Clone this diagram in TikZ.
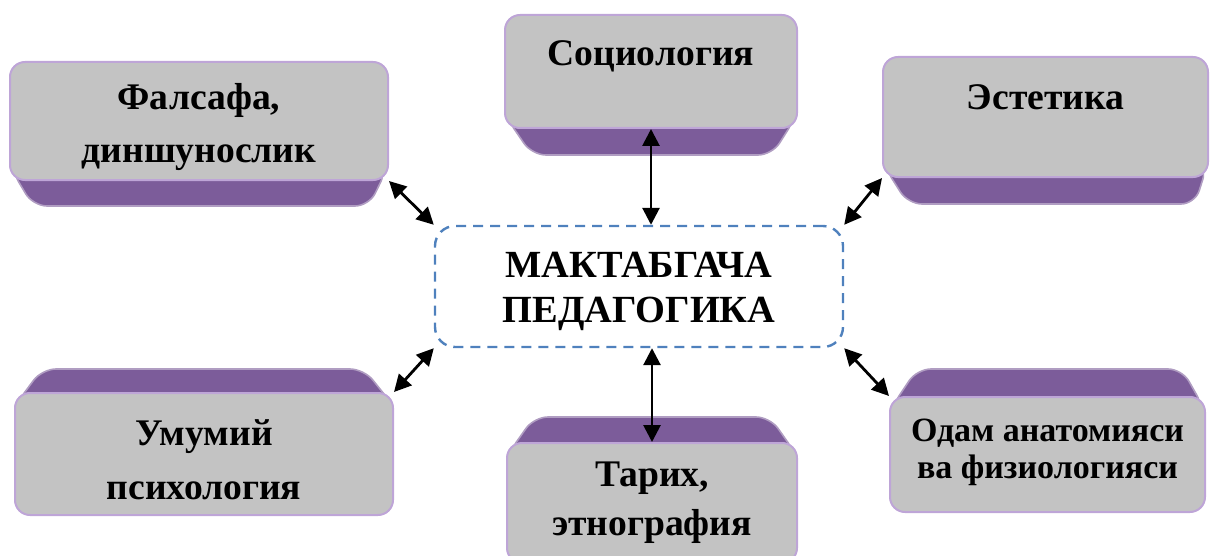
\documentclass[tikz,border=0pt]{standalone}
\usepackage{fontspec}
\setmainfont{Liberation Serif}
\usetikzlibrary{arrows.meta}
\usetikzlibrary{backgrounds}
\usepackage{xcolor}

\definecolor{facegray}{RGB}{195,195,195}
\definecolor{faceedge}{RGB}{190,165,215}
\definecolor{sidepurple}{RGB}{124,92,154}
\definecolor{dashblue}{RGB}{79,129,189}

\tikzset{
    face/.style={draw=faceedge, line width=1pt, fill=facegray, rectangle, rounded corners=7.5pt},
    side/.style={fill=sidepurple, draw=sidepurple!60!white, line width=0.8pt, rounded corners=7pt},
    lbl/.style={font=\bfseries\fontsize{18.8}{26.5}\selectfont, align=center},
    link/.style={{Triangle[length=8.5pt,width=8.5pt]}-{Triangle[length=8.5pt,width=8.5pt]}, line width=1.4pt}
}

\begin{document}
\begin{tikzpicture}[x=0.5pt, y=-0.5pt]
    \useasboundingbox (0,0) rectangle (1210,556);

    % Centre
    \node (ped) [draw=dashblue, line width=1.2pt, dash pattern=on 5pt off 3.5pt, rounded corners=10pt, minimum width=204pt, minimum height=60.5pt] at (639,286.5) {};
    \node (ped-t) [lbl, font=\bfseries\fontsize{19.2}{22.5}\selectfont] at (639,291) {МАКТАБГАЧА\\ПЕДАГОГИКА};

    % Top row (side below)
    \node (fal) [face, minimum width=189pt, minimum height=59pt] at (199,121) {};
    \node (soc) [face, minimum width=146pt, minimum height=56.5pt] at (651,71.5) {};
    \node (ste) [face, minimum width=162.5pt, minimum height=60pt] at (1045.5,117) {};
    \node (fal-t) [lbl] at (199,127) {Фалсафа,\\диншунослик};
    \node (soc-t) [lbl] at (651,56) {Социология};
    \node (ste-t) [lbl] at (1045.5,97) {Эстетика};

    % Bottom row (side above)
    \node (umu) [face, minimum width=189pt, minimum height=61pt] at (204,454) {};
    \node (tar) [face, minimum width=145pt, minimum height=60pt] at (652,503) {};
    \node (oda) [face, minimum width=157.5pt, minimum height=57.5pt] at (1047.5,454.5) {};
    \node (umu-t) [lbl, font=\bfseries\fontsize{18.8}{27}\selectfont] at (204,460) {Умумий\\психология};
    \node (tar-t) [lbl, font=\bfseries\fontsize{18.8}{24.5}\selectfont] at (652,503) {Тарих,\\этнография};
    \node (oda-t) [lbl, font=\bfseries\fontsize{17}{18.5}\selectfont] at (1047.5,452) {Одам анатомияси\\ва физиологияси};

    % Purple sides
    \begin{scope}[on background layer]
        \fill[side] ([xshift=1pt,yshift=6pt]fal.south west) -- ([xshift=12pt,yshift=-12.5pt]fal.south west) -- ([xshift=-10pt,yshift=-12.5pt]fal.south east) -- ([xshift=-1pt,yshift=6pt]fal.south east) -- cycle;
        \fill[side] ([xshift=1pt,yshift=6pt]soc.south west) -- ([xshift=14pt,yshift=-13pt]soc.south west) -- ([xshift=-13pt,yshift=-13pt]soc.south east) -- ([xshift=-1pt,yshift=6pt]soc.south east) -- cycle;
        \fill[side] ([xshift=1pt,yshift=6pt]ste.south west) -- ([xshift=13pt,yshift=-13pt]ste.south west) -- ([xshift=-7pt,yshift=-13pt]ste.south east) -- ([xshift=-1pt,yshift=6pt]ste.south east) -- cycle;
        \fill[side] ([xshift=1pt,yshift=-6pt]umu.north west) -- ([xshift=14pt,yshift=11.5pt]umu.north west) -- ([xshift=-15pt,yshift=11.5pt]umu.north east) -- ([xshift=-1pt,yshift=-6pt]umu.north east) -- cycle;
        \fill[side] ([xshift=1pt,yshift=-6pt]tar.north west) -- ([xshift=14pt,yshift=12.5pt]tar.north west) -- ([xshift=-14pt,yshift=12.5pt]tar.north east) -- ([xshift=-1pt,yshift=-6pt]tar.north east) -- cycle;
        \fill[side] ([xshift=1pt,yshift=-6pt]oda.north west) -- ([xshift=14pt,yshift=13.5pt]oda.north west) -- ([xshift=-12pt,yshift=13.5pt]oda.north east) -- ([xshift=-1pt,yshift=-6pt]oda.north east) -- cycle;
    \end{scope}

    % Links to the centre
    \draw[link] (fal.south east) -- (ped.north west);
    \draw[link] (soc.south) -- (soc.south |- ped.north);
    \draw[link] (ste.south west) -- (ped.north east);
    \draw[link] (umu.north east) -- (ped.south west);
    \draw[link] (tar.north |- ped.south) -- (tar.north);
    \draw[link] (ped.south east) -- (oda.north west);
\end{tikzpicture}
\end{document}
